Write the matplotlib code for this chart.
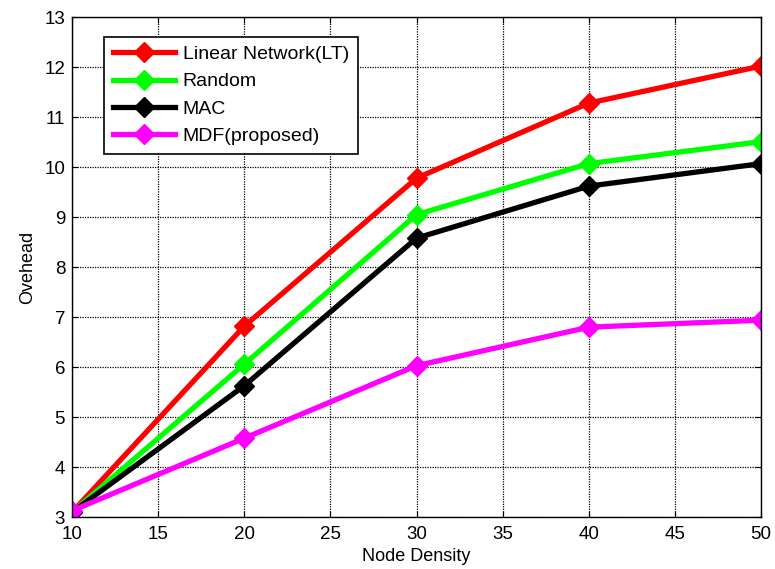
import matplotlib
matplotlib.use('Agg')
import matplotlib.pyplot as plt

plt.rcParams['font.family'] = ['Liberation Sans', 'DejaVu Sans']

# node density values
x = [10, 20, 30, 40, 50]

# overhead per scheme
linear = [3.1, 6.82, 9.78, 11.28, 12.02]
random_ = [3.1, 6.06, 9.05, 10.07, 10.51]
mac = [3.1, 5.63, 8.58, 9.62, 10.07]
mdf = [3.13, 4.58, 6.03, 6.8, 6.94]

names = ['Linear Network(LT)', 'Random', 'MAC', 'MDF(proposed)']
colors = ['#ff0000', '#00ff00', '#000000', '#ff00ff']

fig = plt.figure(figsize=(7.75, 5.69), dpi=100)
ax = fig.add_axes([0.093, 0.091, 0.889, 0.879])

for ys, name, c in zip([linear, random_, mac, mdf], names, colors):
    ax.plot(x, ys, color=c, lw=3.8, marker='D', markersize=10, label=name)

ax.set_xlim(10, 50)
ax.set_ylim(3, 13)
ax.set_xticks(range(10, 51, 5))
ax.set_yticks(range(3, 14))
ax.grid(True, color='black', linestyle=(0, (1, 1)), linewidth=0.9)
ax.tick_params(direction='in', top=True, right=True, labelsize=13.5, length=4)
ax.tick_params(axis='x', pad=6)
ax.tick_params(axis='y', pad=5)
for s in ax.spines.values():
    s.set_linewidth(1.0)

ax.set_xlabel('Node Density', fontsize=13, labelpad=4)
ax.set_ylabel('Ovehead', fontsize=13, labelpad=6)

leg = ax.legend(loc='upper left', bbox_to_anchor=(0.032, 0.98), fontsize=14,
                fancybox=False, edgecolor='black', framealpha=1,
                handlelength=3.2, handletextpad=0.4, borderpad=0.45,
                labelspacing=0.5)
leg.get_frame().set_linewidth(1.2)

fig.savefig('out.png', dpi=100)
